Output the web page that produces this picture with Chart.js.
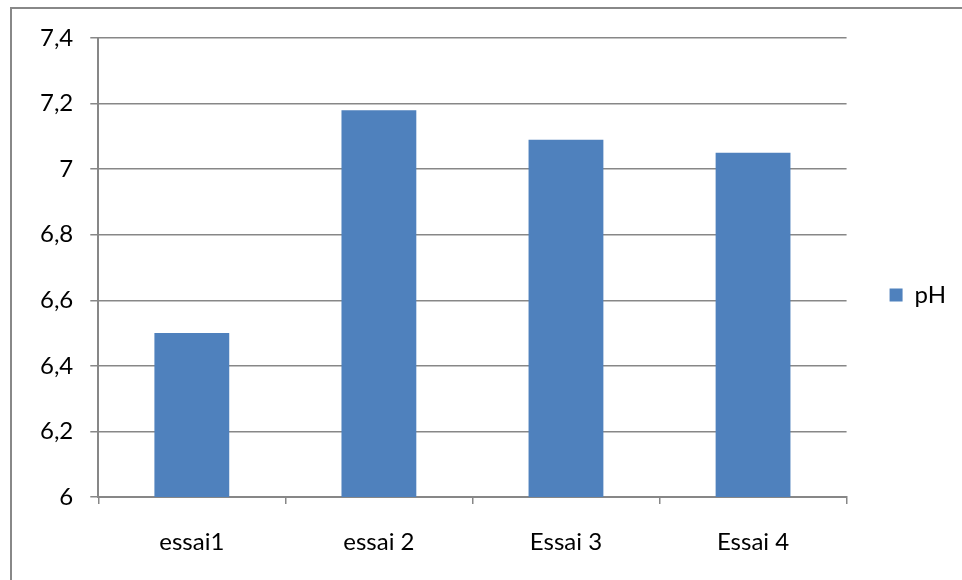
<!DOCTYPE html>
<html>
<head>
<meta charset="utf-8">
<script src="https://cdn.jsdelivr.net/npm/chart.js@4"></script>
<style>
  html, body { margin: 0; padding: 0; background: #fff; overflow: hidden; }
  #wrap { position: relative; width: 962px; height: 580px; }
  #frame {
    position: absolute; left: 10px; top: 7px; width: 1000px; height: 700px;
    border: 2px solid #888888; box-sizing: border-box; pointer-events: none;
  }
  canvas { position: absolute; left: 0; top: 0; }
</style>
</head>
<body>
<div id="wrap">
  <div id="frame"></div>
  <canvas id="chart" width="962" height="580"></canvas>
</div>
<script>
// Chart data
const categories = ['essai1', 'essai 2', 'Essai 3', 'Essai 4'];
const phValues = [6.5, 7.18, 7.09, 7.05];
const seriesLabel = 'pH';

const axisColor = '#878787';
const fontFamily = 'Lato, "Liberation Sans", sans-serif';

new Chart(document.getElementById('chart').getContext('2d'), {
    type: 'bar',
    data: {
        labels: categories,
        datasets: [{
            label: seriesLabel,
            data: phValues,
            backgroundColor: '#4f81bd',
            borderWidth: 0,
            categoryPercentage: 1,
            barPercentage: 0.4
        }]
    },
    options: {
        responsive: false,
        animation: false,
        layout: { padding: { top: 38, left: 23, right: 6, bottom: 28 } },
        plugins: {
            tooltip: { enabled: false },
            legend: {
                position: 'right',
                labels: {
                    color: '#000',
                    font: { family: fontFamily, size: 24 },
                    boxWidth: 13,
                    boxHeight: 13,
                    padding: 43
                }
            }
        },
        scales: {
            x: {
                grid: {
                    offset: true,
                    drawOnChartArea: false,
                    drawTicks: true,
                    tickLength: 7,
                    color: axisColor,
                    lineWidth: 1.5
                },
                border: { display: true, color: axisColor, width: 2 },
                ticks: {
                    color: '#000',
                    font: { family: fontFamily, size: 24 },
                    padding: 24,
                    maxRotation: 0
                },
                // fixed axis height so the plot bottom sits where the original has it
                afterFit: (scale) => { scale.height = 55; }
            },
            y: {
                min: 6,
                max: 7.4,
                grid: {
                    color: axisColor,
                    lineWidth: 1.5,
                    tickLength: 8
                },
                border: { display: true, color: axisColor, width: 2 },
                ticks: {
                    stepSize: 0.2,
                    color: '#000',
                    padding: 17,
                    font: { family: fontFamily, size: 24 },
                    callback: (v) => (Math.round(v * 10) / 10).toString().replace('.', ',')
                }
            }
        }
    }
});
</script>
</body>
</html>
